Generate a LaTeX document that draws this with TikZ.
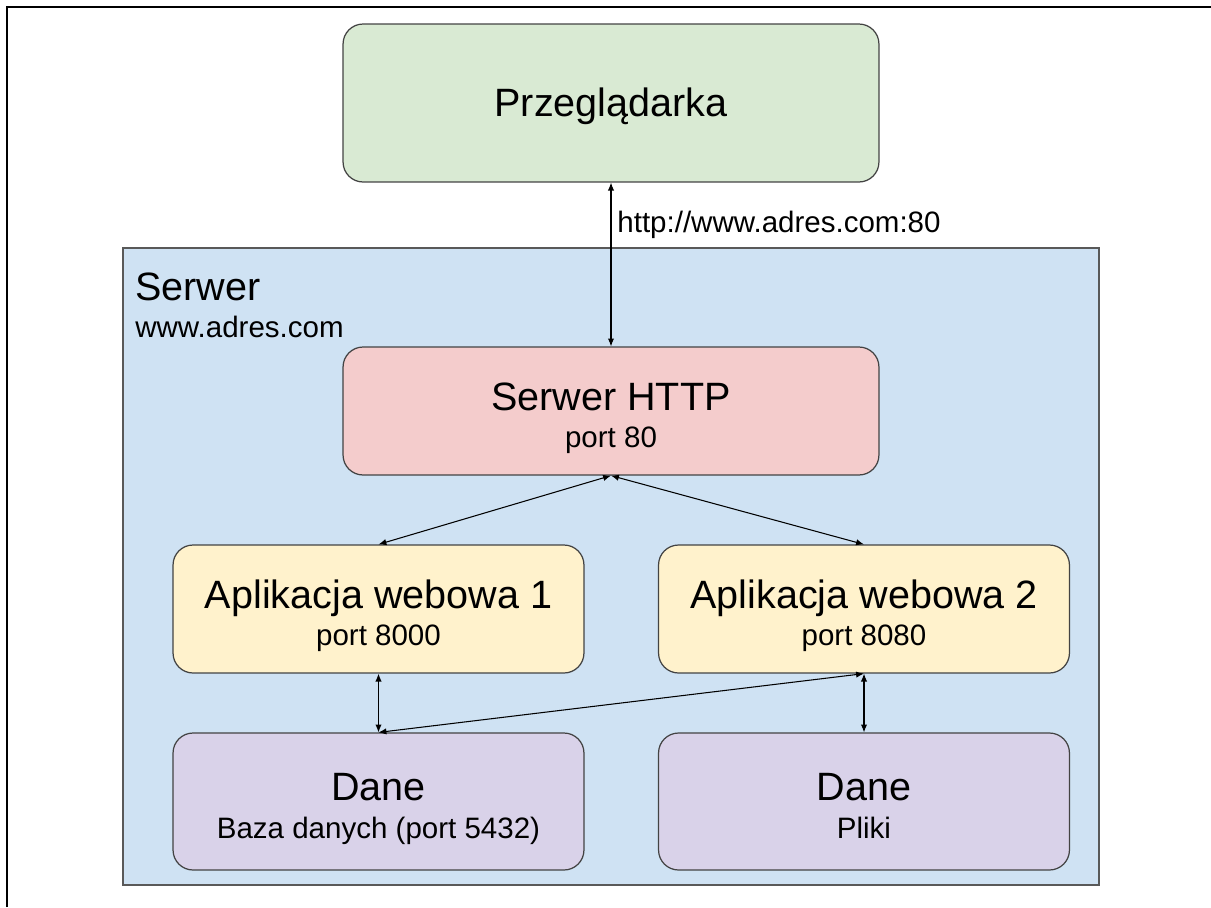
\documentclass[tikz,border=0pt]{standalone}
\usepackage{fontspec}
\setsansfont{Liberation Sans}
\usetikzlibrary{arrows.meta}

\definecolor{browsergreen}{HTML}{D9EAD3}
\definecolor{serverblue}{HTML}{CFE2F3}
\definecolor{httppink}{HTML}{F4CCCC}
\definecolor{appyellow}{HTML}{FFF2CC}
\definecolor{datapurple}{HTML}{D9D2E9}
\definecolor{edgegray}{HTML}{434343}
\definecolor{framegray}{HTML}{595959}

\newcommand{\bigtxt}{\fontsize{22.5}{27}\selectfont}
\newcommand{\smalltxt}{\fontsize{16.8}{21}\selectfont}
% title line and port line of a box, with fixed height and depth
\newcommand{\boxtitle}[1]{\rule{0pt}{25.4pt}{\bigtxt #1}}
\newcommand{\boxsub}[1]{\rule[-5pt]{0pt}{5pt}#1}

\tikzset{
    box/.style={draw=edgegray,line width=0.7pt,rounded corners=0.4cm,
        align=center,inner sep=0pt,font=\sffamily\smalltxt},
    link/.style={<->,line width=0.6pt}
}

\begin{document}
\begin{tikzpicture}[>={Latex[length=4.5pt,width=3.6pt]},font=\sffamily,x=0.02cm,y=-0.02cm]
    \useasboundingbox (0,0) rectangle (1211,907);
    \draw [line width=1.2pt] (7,907) -- (7,7) -- (1211,7);

    % server machine
    \node [draw=framegray,line width=0.8pt,fill=serverblue,inner sep=0pt,
        minimum width=19.52cm,minimum height=12.74cm] (serwer) at (611,566.5) {};
    \node [anchor=north west,align=left,inner sep=0pt,font=\sffamily\smalltxt]
        (serwerlabel) at (135,273) {{\bigtxt Serwer}\\[-0.4pt]www.adres.com};

    % boxes
    \node [box,fill=browsergreen,text depth=1.3pt,minimum width=10.72cm,minimum height=3.16cm]
        (browser) at (611,103) {\bigtxt Przeglądarka};
    \node [box,fill=httppink,minimum width=10.72cm,minimum height=2.56cm]
        (http) at (611,411) {\boxtitle{Serwer HTTP}\\[0.2pt]\boxsub{port 80}};
    \node [box,fill=appyellow,minimum width=8.22cm,minimum height=2.56cm]
        (app1) at (378.5,609) {\boxtitle{Aplikacja webowa 1}\\[0.2pt]\boxsub{port 8000}};
    \node [box,fill=appyellow,minimum width=8.22cm,minimum height=2.56cm]
        (app2) at (864,609) {\boxtitle{Aplikacja webowa 2}\\[0.2pt]\boxsub{port 8080}};
    \node [box,fill=datapurple,minimum width=8.22cm,minimum height=2.74cm]
        (db) at (378.5,801.5) {\boxtitle{Dane}\\[0.2pt]\boxsub{Baza danych (port 5432)}};
    \node [box,fill=datapurple,minimum width=8.22cm,minimum height=2.74cm]
        (files) at (864,801.5) {\boxtitle{Dane}\\[0.2pt]\boxsub{Pliki}};

    % connections
    \draw [link] (browser) -- (http)
        node [pos=0.255,right,font=\sffamily\smalltxt] (url) {http://www.adres.com:80};
    \draw [link] (http.south) -- (app1.north);
    \draw [link] (http.south) -- (app2.north);
    \draw [link] (app1) -- (db);
    \draw [link] (app2.south) -- (db.north);
    \draw [link] (app2) -- (files);
\end{tikzpicture}
\end{document}
